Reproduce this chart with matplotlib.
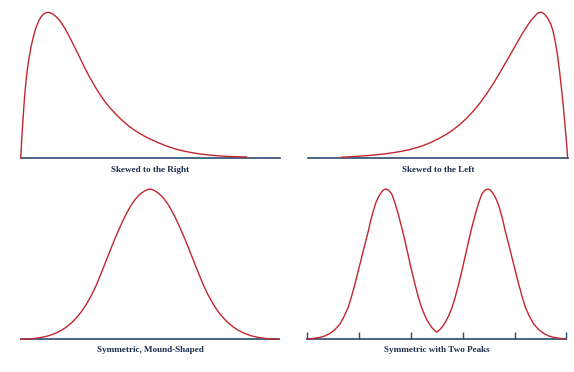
import matplotlib
matplotlib.use("Agg")
import matplotlib.pyplot as plt

# curve points: x in % of baseline width, y in % of peak height
right_x = [0, 0.5, 1.0, 1.45, 1.9, 2.5, 3.2, 4.0, 4.9, 5.8, 6.8, 7.7, 8.7, 9.6, 10.6,
           11.9, 13.2, 14.5, 15.8, 17.1, 18.4, 20.0, 21.6, 23.2, 24.8, 26.7, 28.7, 30.6,
           32.5, 34.4, 36.4, 38.3, 40.2, 42.1, 44.1, 46.0, 47.9, 49.8, 51.8, 54.0, 56.3,
           59.5, 62.7, 65.9, 69.1, 72.3, 75.6, 78.8, 82.0, 84.6, 87.2]
right_y = [0, 16.0, 29.7, 41.0, 50.2, 60.0, 68.5, 76.5, 83.3, 89.0, 93.6, 96.5, 98.6, 99.6, 100,
           99.3, 97.7, 95.5, 92.5, 88.8, 84.5, 79.0, 73.3, 67.5, 61.6, 55.2, 49.0, 43.7,
           38.8, 34.6, 30.8, 27.4, 24.3, 21.5, 19.0, 16.9, 15.0, 13.3, 11.7, 10.0, 8.4,
           6.5, 5.0, 3.9, 3.0, 2.3, 1.8, 1.4, 1.15, 1.0, 0.9]

left_x = [12.6, 17.5, 22.5, 25.7, 28.9, 32.2, 35.4, 38.6, 41.8, 44.4, 46.9, 50.2, 53.4,
          56.0, 58.5, 61.0, 63.6, 66.2, 68.8, 71.4, 73.9, 76.5, 79.0, 81.0, 82.9, 84.5,
          86.1, 87.6, 88.4, 89.1, 89.7, 90.3, 91.2, 92.5, 93.6, 94.4, 95.1, 96.0, 96.8,
          97.5, 98.1, 98.6, 99.1, 99.6, 100]
left_y = [0.7, 1.2, 1.8, 2.3, 2.9, 3.7, 4.6, 5.8, 7.3, 8.8, 10.6, 13.4, 16.6,
          19.8, 23.3, 27.4, 32.3, 37.9, 44.3, 51.4, 58.8, 66.8, 74.5, 80.8, 86.5, 91.0,
          94.9, 97.9, 99.2, 99.85, 100, 99.7, 98.5, 95.4, 91.3, 86.8, 80.9, 71.5, 60.5,
          49.5, 39.3, 29.8, 19.8, 9.6, 0]

mound_x = [0, 2.9, 5.5, 8.1, 10.7, 13.3, 15.9, 17.8, 19.7, 21.7, 23.6, 25.6, 27.5, 29.2,
           30.7, 32.4, 33.9, 35.2, 36.5, 37.8, 39.1, 40.4, 41.8, 43.0, 44.3, 45.5, 46.9,
           48.1, 49.1, 50.0, 50.9, 51.9, 53.1, 54.5, 55.7, 57.0, 58.2, 59.6, 60.9, 62.2,
           63.5, 64.8, 66.1, 67.6, 69.3, 70.8, 72.5, 74.4, 76.4, 78.3, 80.3, 82.2, 84.1,
           86.7, 89.3, 91.9, 94.5, 97.1, 100]
mound_y = [0, 0.2, 0.6, 1.3, 2.3, 3.9, 6.1, 8.3, 11.0, 14.5, 18.6, 23.8, 29.7, 35.8,
           42.0, 49.3, 55.9, 61.5, 67.0, 72.2, 77.2, 81.9, 86.4, 89.9, 93.0, 95.4, 97.5,
           98.8, 99.6, 100, 99.6, 98.8, 97.5, 95.4, 93.0, 89.9, 86.4, 81.9, 77.2, 72.2,
           67.0, 61.5, 55.9, 49.3, 42.0, 35.8, 29.7, 23.8, 18.6, 14.5, 11.0, 8.3, 6.1,
           3.9, 2.3, 1.3, 0.6, 0.2, 0]

peaks_x = [0, 2.5, 4.9, 6.9, 8.8, 10.7, 12.6, 14.2, 15.8, 17.1, 18.4, 19.7, 21.0, 22.3,
           23.6, 24.5, 25.5, 26.4, 27.4, 28.5, 29.4, 30.3, 31.4, 32.6, 33.8, 35.1, 36.4,
           37.7, 39.0, 40.3, 41.6, 42.9, 44.1, 45.4, 46.7, 48.0, 49.0, 50.0,
           51.0, 52.0, 53.3, 54.6, 55.9, 57.1, 58.4, 59.7, 61.0, 62.3, 63.6, 64.9, 66.2,
           67.4, 68.6, 69.7, 70.6, 71.5, 72.6, 73.6, 74.5, 75.5, 76.4, 77.7, 79.0, 80.3,
           81.6, 82.9, 84.2, 85.8, 87.4, 89.3, 91.2, 93.1, 95.1, 97.5, 100]
peaks_y = [0, 0.4, 1.1, 2.1, 3.8, 6.3, 10.0, 15.0, 21.1, 28.5, 36.7, 45.6, 54.5, 63.5,
           72.2, 79.2, 85.5, 90.5, 94.5, 97.6, 99.4, 100, 99.2, 96.7, 91.0, 83.3, 74.8,
           65.5, 55.4, 45.5, 36.3, 27.8, 21.1, 15.5, 11.2, 7.8, 6.0, 4.5,
           6.0, 7.8, 11.2, 15.5, 21.1, 27.8, 36.3, 45.5, 55.4, 65.5, 74.8, 83.3, 91.0,
           96.7, 99.2, 100, 99.4, 97.6, 94.5, 90.5, 85.5, 79.2, 72.2, 63.5, 54.5, 45.6,
           36.7, 28.5, 21.1, 15.0, 10.0, 6.3, 3.8, 2.1, 1.1, 0.4, 0]
peak_ticks = [0, 20, 40, 60, 80, 100]

titles = ["Skewed to the Right", "Skewed to the Left",
          "Symmetric, Mound-Shaped", "Symmetric with Two Peaks"]

W, H = 574, 372
red = "#c1272d"
navy = "#2b4a6f"
text_col = "#1c2f4f"


def panel(fig, left, baseline, width, height):
	ax = fig.add_axes([left / W, (H - baseline) / H, width / W, height / H])
	ax.set_xlim(0, 100)
	ax.set_ylim(0, 100)
	ax.axis("off")
	ax.axhline(0, color=navy, lw=1.2, clip_on=False, zorder=1)
	return ax


def curve(ax, xs, ys):
	ax.plot(xs, ys, color=red, lw=1.0, clip_on=False, zorder=2,
	        solid_joinstyle="round", solid_capstyle="round")


fig = plt.figure(figsize=(W / 100, H / 100), dpi=100)

ax1 = panel(fig, 20.7, 158.3, 259.3, 146)
curve(ax1, right_x, right_y)

ax2 = panel(fig, 308.3, 158.3, 259.4, 146)
curve(ax2, left_x, left_y)

ax3 = panel(fig, 20.7, 339.3, 258.3, 150.3)
curve(ax3, mound_x, mound_y)

ax4 = panel(fig, 307.3, 339.0, 259, 150)
curve(ax4, peaks_x, peaks_y)
ax4.vlines(peak_ticks, 0, 4.7, color=navy, lw=1.0, clip_on=False)

# labels under each panel
label_pos = [(150.3, 170), (438, 170), (150, 350.3), (437, 350.3)]
for (px, py), t in zip(label_pos, titles):
	fig.text(px / W, 1 - py / H, t, ha="center", va="center",
	         family="Liberation Serif", weight="bold", fontsize=6.6, color=text_col)

fig.savefig("out.png", dpi=100)
